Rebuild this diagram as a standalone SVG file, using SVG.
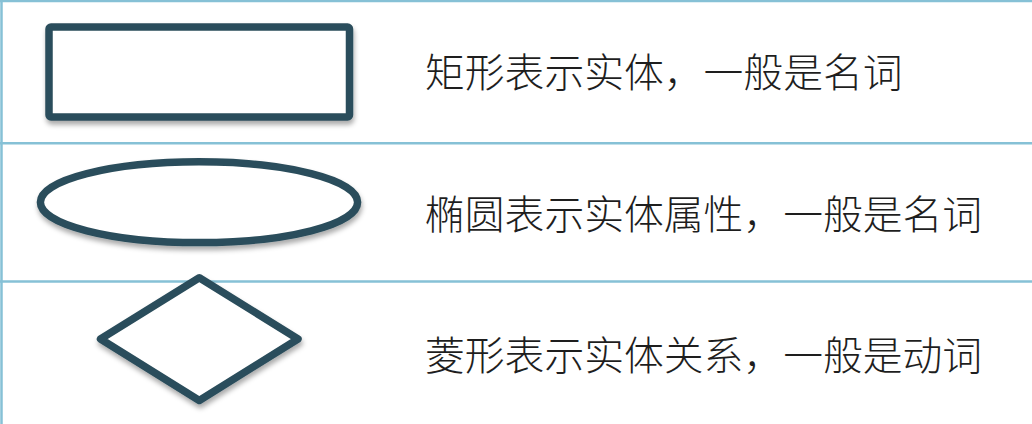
<svg xmlns="http://www.w3.org/2000/svg" width="1032" height="424" viewBox="0 0 1032 424">
  <style>
    .grid { stroke: #86c1d6; stroke-width: 2.5; fill: none; }
    .shape { fill: #ffffff; stroke: #2b4d5b; stroke-width: 7.5; stroke-linejoin: round; filter: url(#shadow); }
    .label { font-family: "Noto Sans CJK SC", "Noto Sans", sans-serif; font-size: 39.8px; font-weight: 300; fill: #1e1e1e; }
  </style>
  <defs>
    <filter id="shadow" x="-10%" y="-20%" width="120%" height="150%">
      <feDropShadow dx="1" dy="4" stdDeviation="2.4" flood-color="#000000" flood-opacity="0.33"/>
    </filter>
  </defs>
  <rect width="1032" height="424" fill="#ffffff"/>
  <g id="grid-lines">
    <line class="grid" x1="0" y1="1" x2="1032" y2="1"/>
    <line class="grid" x1="1.5" y1="0" x2="1.5" y2="424"/>
    <line class="grid" x1="0" y1="143.3" x2="1032" y2="143.3"/>
    <line class="grid" x1="0" y1="281.5" x2="1032" y2="281.5"/>
  </g>
  <g id="entity">
    <rect class="shape" x="49" y="27" width="300.5" height="90" rx="2"/>
    <text class="label" x="425" y="87">矩形表示实体，一般是名词</text>
  </g>
  <g id="attribute">
    <ellipse class="shape" cx="199" cy="202.2" rx="158.6" ry="40.4"/>
    <text class="label" x="425" y="229">椭圆表示实体属性，一般是名词</text>
  </g>
  <g id="relationship">
    <polygon class="shape" points="199.3,277.8 298,339 199.3,400.5 100.5,339"/>
    <text class="label" x="425" y="370">菱形表示实体关系，一般是动词</text>
  </g>
  <g id="connectors"></g>
</svg>
